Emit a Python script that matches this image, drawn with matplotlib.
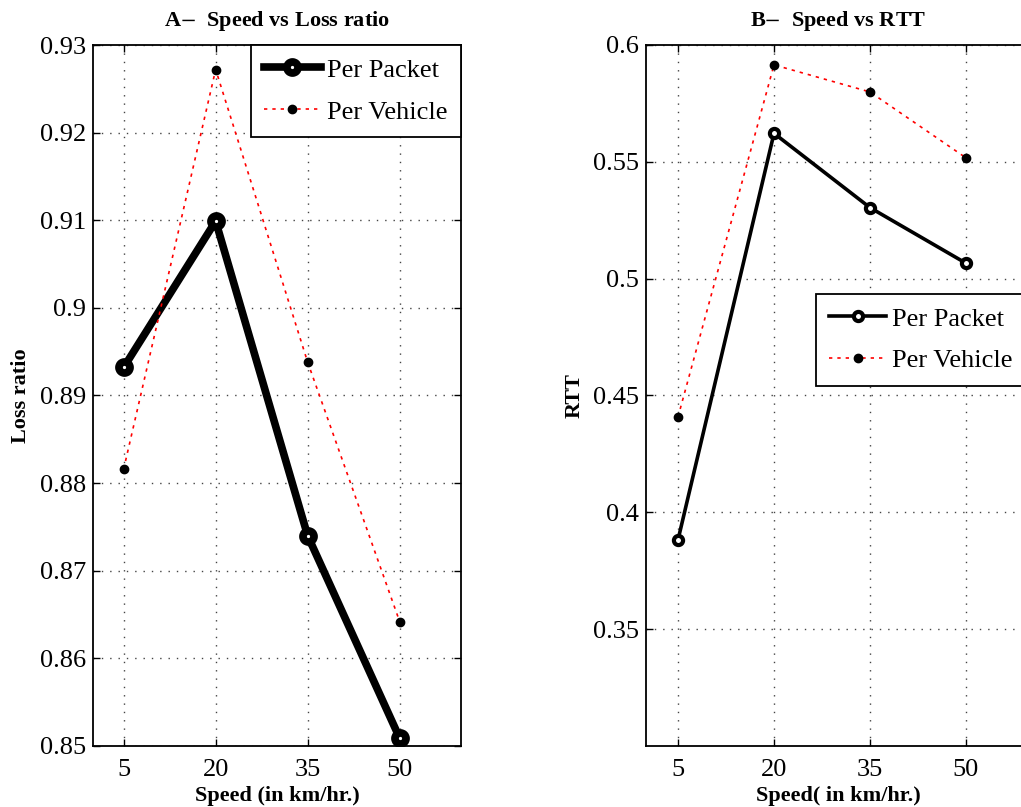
import matplotlib
matplotlib.use('Agg')
import matplotlib.pyplot as plt
import numpy as np

plt.rcParams['font.family'] = ['Liberation Serif', 'DejaVu Serif']
plt.rcParams['mathtext.fontset'] = 'stix'

speed = [5, 20, 35, 50]
speed_ticks = ['5', '20', '35', '50']

loss_packet = [0.8932, 0.9099, 0.8740, 0.8509]
loss_vehicle = [0.8816, 0.9272, 0.8938, 0.8642]

rtt_packet = [0.3882, 0.5622, 0.5304, 0.5066]
rtt_vehicle = [0.4408, 0.5915, 0.5799, 0.5517]

loss_yticks = [0.85, 0.86, 0.87, 0.88, 0.89, 0.90, 0.91, 0.92, 0.93]
loss_ylabels = ['0.85', '0.86', '0.87', '0.88', '0.89', '0.9', '0.91', '0.92', '0.93']
rtt_yticks = [0.35, 0.40, 0.45, 0.50, 0.55, 0.60]
rtt_ylabels = ['0.35', '0.4', '0.45', '0.5', '0.55', '0.6']

W, H = 1021, 807
fig = plt.figure(figsize=(W / 100, H / 100), dpi=100)

# axes placed in pixel coords (right one runs past the edge like the original)
ax1 = fig.add_axes([93 / W, 1 - 746 / H, (461 - 93) / W, (746 - 45) / H])
ax2 = fig.add_axes([646 / W, 1 - 746 / H, (1030 - 646) / W, (746 - 45) / H])

vehicle_ls = (0, (2, 3))


def style(ax):
    ax.set_xlim(0, 60)
    ax.set_xticks(speed)
    ax.set_xticklabels(speed_ticks)
    ax.tick_params(direction='in', top=True, right=True, labelsize=19,
                   length=5, width=1)
    ax.tick_params(axis='x', pad=9)
    ax.tick_params(axis='y', pad=5)
    ax.grid(True, linestyle=(0, (1, 5)), color='#444444', linewidth=1.0)
    for s in ax.spines.values():
        s.set_linewidth(1.3)


leg_kw = dict(fontsize=19, fancybox=False, framealpha=1, edgecolor='black',
              handlelength=2.15, borderpad=0.5, labelspacing=0.7,
              handletextpad=0.25)

ax1.plot(speed, loss_packet, '-o', color='black', lw=5.5, ms=8,
         mfc='white', mew=5.5, label='Per Packet', zorder=3)
ax1.plot(speed, loss_vehicle, linestyle=vehicle_ls, color='red', lw=1.2,
         marker='o', ms=6, mfc='black', mec='black', label='Per Vehicle', zorder=3)
style(ax1)
ax1.set_ylim(0.85, 0.93)
ax1.set_yticks(loss_yticks)
ax1.set_yticklabels(loss_ylabels)
ax1.set_title('A$-$  Speed vs Loss ratio', fontsize=16, fontweight='bold', pad=14)
ax1.set_xlabel('Speed (in km/hr.)', fontsize=16, fontweight='bold', labelpad=4)
ax1.set_ylabel('Loss ratio', fontsize=16, fontweight='bold', labelpad=6)
leg1 = ax1.legend(loc='upper right', borderaxespad=0.0, **leg_kw)
leg1.get_frame().set_linewidth(1.3)

ax2.plot(speed, rtt_packet, '-o', color='black', lw=2.6, ms=6.6,
         mfc='white', mew=3, label='Per Packet', zorder=3)
ax2.plot(speed, rtt_vehicle, linestyle=vehicle_ls, color='red', lw=1.2,
         marker='o', ms=6, mfc='black', mec='black', label='Per Vehicle', zorder=3)
style(ax2)
ax2.set_ylim(0.30, 0.60)
ax2.set_yticks(rtt_yticks)
ax2.set_yticklabels(rtt_ylabels)
ax2.set_title('B$-$  Speed vs RTT', fontsize=16, fontweight='bold', pad=14)
ax2.set_xlabel('Speed( in km/hr.)', fontsize=16, fontweight='bold', labelpad=4)
ax2.set_ylabel('RTT', fontsize=16, fontweight='bold', labelpad=6)
leg2 = ax2.legend(loc='upper right', bbox_to_anchor=(0.99, 0.645),
                  borderaxespad=0.0, **leg_kw)
leg2.get_frame().set_linewidth(1.3)

fig.savefig('out.png', dpi=100)
